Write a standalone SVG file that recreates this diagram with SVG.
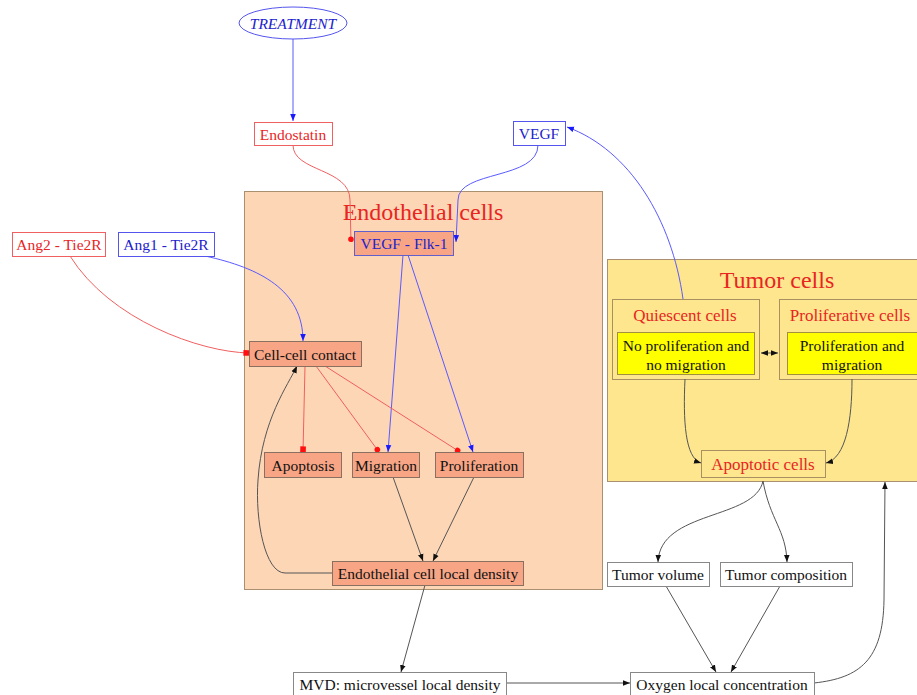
<svg xmlns="http://www.w3.org/2000/svg" width="917" height="695" viewBox="0 0 917 695">
<defs>
<style>
text{font-family:"Liberation Serif","Times New Roman",serif;font-size:15.5px;text-anchor:middle;dominant-baseline:central}
.red{fill:#e8251f}
.blue{fill:#2222cc}
.blk{fill:#111}
.nodeW{fill:#fff;stroke:#888;stroke-width:1}
.nodeR{fill:#fff;stroke:#f06060;stroke-width:1}
.nodeB{fill:#fff;stroke:#5555ee;stroke-width:1}
.sal{fill:#f7a585;stroke:#8a7060;stroke-width:1}
.yel{fill:#ffff00;stroke:#a09040;stroke-width:1}
.e{fill:none;stroke-width:1}
.eb{stroke:#5a5aff}
.er{stroke:#f06060}
.ek{stroke:#555}
</style>
<marker id="ab" viewBox="0 0 10 10" refX="10" refY="5" markerWidth="7" markerHeight="7" orient="auto" markerUnits="userSpaceOnUse"><path d="M0,1 L10,5 L0,9 z" fill="#1a1aff"/></marker>
<marker id="ak" viewBox="0 0 10 10" refX="10" refY="5" markerWidth="7" markerHeight="7" orient="auto" markerUnits="userSpaceOnUse"><path d="M0,1 L10,5 L0,9 z" fill="#111"/></marker>
<marker id="aks" viewBox="0 0 10 10" refX="0" refY="5" markerWidth="7" markerHeight="7" orient="auto" markerUnits="userSpaceOnUse"><path d="M10,1 L0,5 L10,9 z" fill="#111"/></marker>
<marker id="dr" viewBox="0 0 10 10" refX="9" refY="5" markerWidth="7" markerHeight="7" orient="auto" markerUnits="userSpaceOnUse"><circle cx="5" cy="5" r="4" fill="#ff1010"/></marker>
<marker id="sr" viewBox="0 0 10 10" refX="9" refY="5" markerWidth="7" markerHeight="7" orient="auto" markerUnits="userSpaceOnUse"><rect x="1" y="1" width="8" height="8" fill="#ff1010"/></marker>
</defs>
<rect width="917" height="695" fill="#fff"/>

<g id="cluster-endothelial">
<rect x="244.500" y="191.500" width="358" height="398" fill="#fdd6b6" stroke="#a89070"/>
<text x="423" y="212" class="red" style="font-size:24px">Endothelial cells</text>
</g>
<g id="cluster-tumor">
<rect x="607.500" y="259.500" width="315" height="222" fill="#fde68e" stroke="#a89070"/>
<text x="777" y="280" class="red" style="font-size:24px">Tumor cells</text>
</g>
<g id="cluster-quiescent">
<rect x="612.500" y="299.500" width="147" height="80" fill="#fde68e" stroke="#a89060"/>
<text x="685" y="315" class="red" style="font-size:17px">Quiescent cells</text>
</g>
<g id="cluster-proliferative">
<rect x="779.500" y="299.500" width="145" height="80" fill="#fde68e" stroke="#a89060"/>
<text x="850" y="315" class="red" style="font-size:17px">Proliferative cells</text>
</g>

<g id="edges">
<path class="e eb" d="M293,39 L293,121" marker-end="url(#ab)"/>
<path class="e er" d="M293,145 C293,172 350,168 350,200 L351,242" marker-end="url(#dr)"/>
<path class="e eb" d="M538,145 C538,180 458,170 458,200 L456,242" marker-end="url(#ab)"/>
<path class="e eb" d="M683,299 C672,220 630,150 567,127" marker-end="url(#ab)"/>
<path class="e eb" d="M205,256 C260,268 303,290 303,341" marker-end="url(#ab)"/>
<path class="e er" d="M70,256 C110,320 200,352 249,353" marker-end="url(#sr)"/>
<path class="e eb" d="M403,255 L388,452" marker-end="url(#ab)"/>
<path class="e eb" d="M408,255 L473,452" marker-end="url(#ab)"/>
<path class="e er" d="M305,366 L303,452" marker-end="url(#sr)"/>
<path class="e er" d="M316,366 L379,452" marker-end="url(#dr)"/>
<path class="e er" d="M325,366 L460,452" marker-end="url(#dr)"/>
<path class="e ek" d="M393,477 L423,561" marker-end="url(#ak)"/>
<path class="e ek" d="M474,477 L433,561" marker-end="url(#ak)"/>
<path class="e ek" d="M332,573 L285,573 C265,573 255,520 258,480 C262,420 288,385 297,366" marker-end="url(#ak)"/>
<path class="e ek" d="M425,585 L401,672" marker-end="url(#ak)"/>
<path class="e ek" d="M763,481 C755,520 660,510 658,562" marker-end="url(#ak)"/>
<path class="e ek" d="M763,481 C770,520 786,530 787,562" marker-end="url(#ak)"/>
<path class="e ek" d="M685,379 C683,420 685,458 701,463" marker-end="url(#ak)"/>
<path class="e ek" d="M852,379 C852,420 846,458 826,463" marker-end="url(#ak)"/>
<path class="e ek" d="M761,353 L778,353" marker-start="url(#aks)" marker-end="url(#ak)"/>
<path class="e ek" d="M666,586 L716,672" marker-end="url(#ak)"/>
<path class="e ek" d="M780,586 L731,672" marker-end="url(#ak)"/>
<path class="e ek" d="M506,683 L630,683" marker-end="url(#ak)"/>
<path class="e ek" d="M814,683 C860,678 883,660 884,600 L885,482" marker-end="url(#ak)"/>
</g>

<g id="treatment">
<ellipse cx="293" cy="23" rx="54" ry="16" fill="#fff" stroke="#5555ee"/>
<text x="293" y="23" class="blue" style="font-style:italic">TREATMENT</text>
</g>
<g id="endostatin">
<rect x="254.500" y="122.500" width="78" height="23" class="nodeR"/>
<text x="293" y="134" class="red">Endostatin</text>
</g>
<g id="vegf">
<rect x="513.500" y="121.500" width="52" height="24" class="nodeB"/>
<text x="539" y="133.500" class="blue">VEGF</text>
</g>
<g id="ang2">
<rect x="12.500" y="232.500" width="93" height="24" class="nodeR"/>
<text x="59" y="244.500" class="red">Ang2 - Tie2R</text>
</g>
<g id="ang1">
<rect x="118.500" y="232.500" width="96" height="24" class="nodeB"/>
<text x="166" y="244.500" class="blue">Ang1 - Tie2R</text>
</g>
<g id="vegf-flk1">
<rect x="354.500" y="231.500" width="99" height="24" fill="#f7a585" stroke="#6060cc"/>
<text x="404" y="243.500" class="blue">VEGF - Flk-1</text>
</g>
<g id="cell-cell-contact">
<rect x="249.500" y="341.500" width="112" height="25" class="sal"/>
<text x="305" y="354" class="blk">Cell-cell contact</text>
</g>
<g id="apoptosis">
<rect x="264.500" y="452.500" width="77" height="25" class="sal"/>
<text x="303" y="465" class="blk">Apoptosis</text>
</g>
<g id="migration">
<rect x="352.500" y="452.500" width="67" height="25" class="sal"/>
<text x="386" y="465" class="blk">Migration</text>
</g>
<g id="proliferation">
<rect x="435.500" y="452.500" width="88" height="25" class="sal"/>
<text x="479" y="465" class="blk">Proliferation</text>
</g>
<g id="ec-local-density">
<rect x="332.500" y="561.500" width="191" height="24" class="sal"/>
<text x="428" y="573.500" class="blk">Endothelial cell local density</text>
</g>
<g id="quiescent-node">
<rect x="617.500" y="332.500" width="137" height="42" class="yel"/>
<text x="686" y="345" class="blk">No proliferation and</text>
<text x="686" y="364" class="blk">no migration</text>
</g>
<g id="proliferative-node">
<rect x="787.500" y="332.500" width="133" height="42" class="yel"/>
<text x="852" y="345" class="blk">Proliferation and</text>
<text x="852" y="364" class="blk">migration</text>
</g>
<g id="apoptotic-cells">
<rect x="701.500" y="450.500" width="124" height="27" fill="#fde68e" stroke="#a89060"/>
<text x="763" y="464" class="red" style="font-size:17px">Apoptotic cells</text>
</g>
<g id="tumor-volume">
<rect x="607.500" y="562.500" width="102" height="24" class="nodeW"/>
<text x="658" y="574.500" class="blk">Tumor volume</text>
</g>
<g id="tumor-composition">
<rect x="720.500" y="562.500" width="132" height="24" class="nodeW"/>
<text x="786" y="574.500" class="blk">Tumor composition</text>
</g>
<g id="mvd">
<rect x="293.500" y="672.500" width="213" height="24" class="nodeW"/>
<text x="400" y="684.500" class="blk">MVD: microvessel local density</text>
</g>
<g id="oxygen">
<rect x="630.500" y="672.500" width="184" height="24" class="nodeW"/>
<text x="722" y="684.500" class="blk">Oxygen local concentration</text>
</g>
</svg>
